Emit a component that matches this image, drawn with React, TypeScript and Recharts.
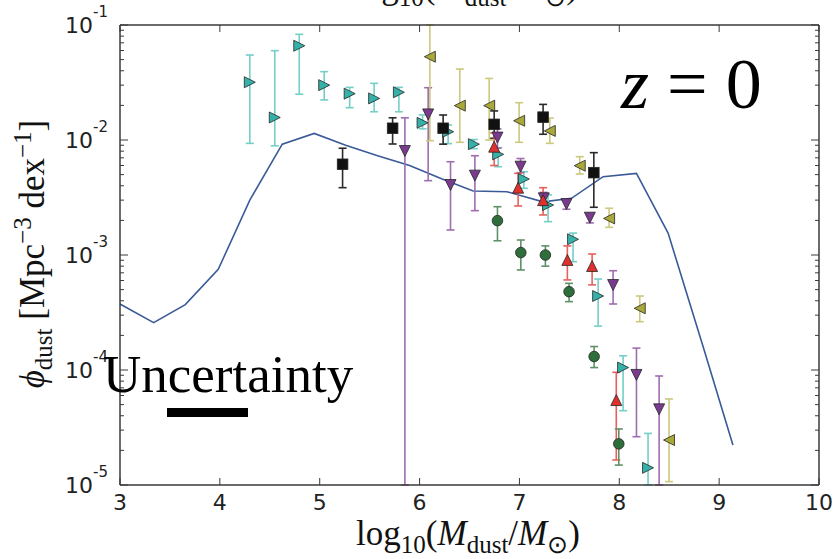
import React from 'react';
import { ComposedChart, Line, Scatter, XAxis, YAxis, ErrorBar } from 'recharts';

// ---------- tick values ----------
const xTicks = [3, 4, 5, 6, 7, 8, 9, 10];
const yDecades = [1e-5, 1e-4, 1e-3, 1e-2, 1e-1];
const yMinorSteps = [2, 3, 4, 5, 6, 7, 8, 9];

// ---------- model line ----------
const modelX = [3.0, 3.337, 3.654, 3.984, 4.3, 4.625, 4.945, 5.26, 5.58, 5.9, 6.22, 6.537, 6.876, 7.237, 7.521, 7.838, 8.172, 8.489, 8.839, 9.138];
const modelY = [3.75e-4, 2.58e-4, 3.7e-4, 7.5e-4, 3.0e-3, 9.2e-3, 1.14e-2, 9.0e-3, 7.3e-3, 6.0e-3, 4.6e-3, 3.6e-3, 3.55e-3, 2.9e-3, 3.11e-3, 4.8e-3, 5.13e-3, 1.55e-3, 1.6e-4, 2.23e-5];

// ---------- cyan right triangles ----------
const cyanX = [4.3, 4.55, 4.795, 5.045, 5.3, 5.545, 5.793, 6.03, 6.286, 6.544, 6.787, 7.044, 7.287, 7.537, 7.788, 8.038, 8.288];
const cyanY = [0.0318, 0.0157, 0.066, 0.03, 0.0253, 0.023, 0.026, 0.0141, 0.0118, 0.0092, 0.0075, 0.00458, 0.00272, 0.00137, 0.00044, 1.05e-4, 1.41e-5];
const cyanLo = [0.00935, 0.0089, 0.025, 0.0223, 0.0191, 0.0176, 0.0176, 0.0125, 0.0093, 0.0084, 0.00586, 0.0038, 0.00195, 0.000875, 0.000241, 4.43e-5, 1e-6];
const cyanHi = [0.0548, 0.0598, 0.083, 0.0393, 0.0287, 0.0311, 0.0287, 0.0165, 0.0135, 0.0101, 0.00857, 0.0053, 0.00333, 0.00155, 0.000618, 1.33e-4, 2.81e-5];

// ---------- black squares ----------
const blackX = [5.229, 5.73, 6.236, 6.747, 7.237, 7.745];
const blackY = [0.00615, 0.01265, 0.01265, 0.01368, 0.0158, 0.0052];
const blackLo = [0.00385, 0.00923, 0.0092, 0.01035, 0.01122, 0.0026];
const blackHi = [0.00848, 0.0156, 0.0165, 0.0179, 0.0204, 0.00776];

// ---------- purple down triangles ----------
const purpleX = [5.853, 6.086, 6.31, 6.554, 6.78, 7.011, 7.244, 7.471, 7.705, 7.938, 8.172, 8.399];
const purpleY = [0.00802, 0.0167, 0.00406, 0.0049, 0.0105, 0.00586, 0.00311, 0.00277, 0.00211, 5.48e-4, 9.06e-5, 4.55e-5];
const purpleLo = [1e-6, 0.00443, 0.00165, 0.00243, 0.0085, 0.0052, 0.0027, 0.0025, 0.0019, 3.75e-4, 2.63e-5, 1e-6];
const purpleHi = [0.0156, 0.0285, 0.00647, 0.0073, 0.0125, 0.0069, 0.0035, 0.003, 0.0023, 7.3e-4, 1.55e-4, 8.87e-5];

// ---------- olive left triangles ----------
const oliveX = [6.103, 6.403, 6.697, 6.997, 7.304, 7.604, 7.898, 8.205, 8.498];
const oliveY = [0.053, 0.0199, 0.0199, 0.0147, 0.012, 0.00598, 0.00208, 3.44e-4, 2.46e-5];
const oliveLo = [0.00986, 0.00955, 0.01, 0.00955, 0.00935, 0.00506, 0.00174, 2.63e-4, 1.07e-5];
const oliveHi = [0.2, 0.0414, 0.0343, 0.0211, 0.0155, 0.00716, 0.00255, 4.4e-4, 5.6e-5];

// ---------- red up triangles ----------
const redX = [6.747, 6.987, 7.237, 7.48, 7.728, 7.97];
const redY = [0.00875, 0.00385, 0.003, 9.06e-4, 8.02e-4, 5.48e-5];
const redLo = [0.006, 0.00267, 0.00223, 6.07e-4, 5.5e-4, 1.65e-5];
const redHi = [0.0115, 0.00513, 0.00385, 0.0012, 0.00102, 9.55e-5];

// ---------- green circles ----------
const greenX = [6.78, 7.014, 7.26, 7.497, 7.748, 7.995];
const greenY = [0.00199, 0.00105, 0.001, 4.8e-4, 1.31e-4, 2.28e-5];
const greenLo = [0.00133, 7.41e-4, 8.0e-4, 3.93e-4, 1.05e-4, 1.49e-5];
const greenHi = [0.00263, 0.00135, 0.0012, 5.67e-4, 1.6e-4, 3.07e-5];

// ---------- tables ----------
const Y_MIN = yDecades[0];
const Y_MAX = yDecades[yDecades.length - 1];
const yTicks: number[] = [];
yDecades.forEach((d, i) => {
  yTicks.push(d);
  if (i < yDecades.length - 1) yMinorSteps.forEach((m) => yTicks.push(d * m));
});

const modelData = modelX.map((x, i) => ({ x, y: modelY[i] }));
// error bars that leave the frame are cut at the frame edge
const build = (xs: number[], ys: number[], lo: number[], hi: number[]) =>
  xs.map((x, i) => {
    const l = Math.max(lo[i], Y_MIN);
    const h = Math.min(hi[i], Y_MAX);
    return { x, y: ys[i], err: [ys[i] - l, h - ys[i]] };
  });

const cyanData = build(cyanX, cyanY, cyanLo, cyanHi);
const blackData = build(blackX, blackY, blackLo, blackHi);
const purpleData = build(purpleX, purpleY, purpleLo, purpleHi);
const oliveData = build(oliveX, oliveY, oliveLo, oliveHi);
const redData = build(redX, redY, redLo, redHi);
const greenData = build(greenX, greenY, greenLo, greenHi);

// ---------- styles ----------
const AXIS = '#3a3a3a';
const EDGE = '#262626';
const TICKFONT = 'DejaVu Sans, Verdana, sans-serif';
const SERIF = '"Liberation Serif", "Times New Roman", serif';

const isMajor = (v: number) => {
  const l = Math.log10(v);
  return Math.abs(l - Math.round(l)) < 1e-6;
};

const LeftTick = (p: any) => {
  const { x, y, payload } = p;
  const v = payload.value;
  const major = isMajor(v);
  return (
    <g>
      <line x1={x} y1={y} x2={x + (major ? 8 : 4)} y2={y} stroke={AXIS} strokeWidth={1} />
      {major && (
        <text x={x - 12} y={y + 8} textAnchor="end" fontFamily={TICKFONT} fontSize={22} fill="#222">
          10
          <tspan dy={-16} fontSize={15}>{String(Math.round(Math.log10(v)))}</tspan>
        </text>
      )}
    </g>
  );
};

const RightTick = (p: any) => {
  const { x, y, payload } = p;
  const major = isMajor(payload.value);
  return <line x1={x} y1={y} x2={x - (major ? 8 : 4)} y2={y} stroke={AXIS} strokeWidth={1} />;
};

const BottomTick = (p: any) => {
  const { x, y, payload } = p;
  return (
    <g>
      <line x1={x} y1={y} x2={x} y2={y - 7} stroke={AXIS} strokeWidth={1} />
      <text x={x} y={y + 25} textAnchor="middle" fontFamily={TICKFONT} fontSize={22} fill="#222">
        {payload.value}
      </text>
    </g>
  );
};

const TopTick = (p: any) => {
  const { x, y } = p;
  return <line x1={x} y1={y} x2={x} y2={y + 7} stroke={AXIS} strokeWidth={1} />;
};

const tri = (dir: string, fill: string) => (props: any) => {
  const { cx, cy } = props;
  if (cx == null || cy == null || isNaN(cx) || isNaN(cy)) return <g />;
  const s = 5.5;
  let pts = '';
  if (dir === 'right') pts = `${cx + s},${cy} ${cx - s},${cy - s} ${cx - s},${cy + s}`;
  if (dir === 'left') pts = `${cx - s},${cy} ${cx + s},${cy - s} ${cx + s},${cy + s}`;
  if (dir === 'down') pts = `${cx},${cy + s} ${cx - s},${cy - s} ${cx + s},${cy - s}`;
  if (dir === 'up') pts = `${cx},${cy - s} ${cx - s},${cy + s} ${cx + s},${cy + s}`;
  return <polygon points={pts} fill={fill} stroke={EDGE} strokeWidth={0.8} />;
};

const square = (fill: string) => (props: any) => {
  const { cx, cy } = props;
  if (cx == null || cy == null) return <g />;
  return <rect x={cx - 5.3} y={cy - 5.3} width={10.6} height={10.6} fill={fill} stroke={EDGE} strokeWidth={0.8} />;
};

const circle = (fill: string) => (props: any) => {
  const { cx, cy } = props;
  if (cx == null || cy == null) return <g />;
  return <circle cx={cx} cy={cy} r={5.3} fill={fill} stroke={EDGE} strokeWidth={0.8} />;
};

const series = [
  { name: 'cyan', data: cyanData, shape: tri('right', '#35b1a9'), err: '#74cfc7' },
  { name: 'black', data: blackData, shape: square('#111111'), err: '#2a2a2a' },
  { name: 'purple', data: purpleData, shape: tri('down', '#7a3b8f'), err: '#a06cb0' },
  { name: 'olive', data: oliveData, shape: tri('left', '#a9a83a'), err: '#cbc97c' },
  { name: 'red', data: redData, shape: tri('up', '#e0302e'), err: '#e6605c' },
  { name: 'green', data: greenData, shape: circle('#2e6e3a'), err: '#5f9167' },
];

const AxisTitle = ({ x, y }: { x: number; y: number }) => (
  <text x={x} y={y} textAnchor="middle" fontFamily={SERIF} fontSize={35} fill="#111">
    log
    <tspan dy={8} fontSize={25}>10</tspan>
    <tspan dy={-8}>(</tspan>
    <tspan fontStyle="italic">M</tspan>
    <tspan dy={8} fontSize={25}>dust</tspan>
    <tspan dy={-8}>/</tspan>
    <tspan fontStyle="italic">M</tspan>
    <tspan dy={8} fontSize={25}>⊙</tspan>
    <tspan dy={-8}>)</tspan>
  </text>
);

export default function App() {
  return (
    <div style={{ position: 'absolute', left: 0, top: 0, width: 840, height: 559, background: '#fff' }}>
      <ComposedChart width={840} height={559} margin={{ top: 24, right: 20, bottom: 44, left: 60 }}>
        <XAxis
          xAxisId="b"
          type="number"
          dataKey="x"
          domain={[3, 10]}
          ticks={xTicks}
          interval={0}
          allowDataOverflow
          height={30}
          tickSize={0}
          tickMargin={0}
          tickLine={false}
          tick={BottomTick}
          axisLine={{ stroke: AXIS, strokeWidth: 1.5 }}
        />
        <XAxis
          xAxisId="t"
          orientation="top"
          type="number"
          dataKey="x"
          domain={[3, 10]}
          ticks={xTicks}
          interval={0}
          allowDataOverflow
          height={1}
          tickSize={0}
          tickMargin={0}
          tickLine={false}
          tick={TopTick}
          axisLine={{ stroke: AXIS, strokeWidth: 1.5 }}
        />
        <YAxis
          yAxisId="l"
          type="number"
          dataKey="y"
          scale="log"
          domain={[Y_MIN, Y_MAX]}
          ticks={yTicks}
          interval={0}
          allowDataOverflow
          width={60}
          tickSize={0}
          tickMargin={0}
          tickLine={false}
          tick={LeftTick}
          axisLine={{ stroke: AXIS, strokeWidth: 1.5 }}
        />
        <YAxis
          yAxisId="r"
          orientation="right"
          type="number"
          dataKey="y"
          scale="log"
          domain={[Y_MIN, Y_MAX]}
          ticks={yTicks}
          interval={0}
          allowDataOverflow
          width={1}
          tickSize={0}
          tickMargin={0}
          tickLine={false}
          tick={RightTick}
          axisLine={{ stroke: AXIS, strokeWidth: 1.5 }}
        />
        <Line
          xAxisId="b"
          yAxisId="l"
          data={modelData}
          dataKey="y"
          type="linear"
          stroke="#3a5a98"
          strokeWidth={1.6}
          dot={false}
          activeDot={false}
          isAnimationActive={false}
        />
        {series.map((s) => (
          <Scatter
            key={s.name}
            xAxisId="b"
            yAxisId="l"
            data={s.data}
            dataKey="y"
            shape={s.shape}
            isAnimationActive={false}
          >
            <ErrorBar dataKey="err" direction="y" width={4} stroke={s.err} strokeWidth={1.6} isAnimationActive={false} />
          </Scatter>
        ))}
      </ComposedChart>
      <svg
        width={840}
        height={559}
        style={{ position: 'absolute', left: 0, top: 0, pointerEvents: 'none', overflow: 'hidden' }}
      >
        <AxisTitle x={466} y={-2} />
        <AxisTitle x={468} y={545} />
        <text
          transform="translate(44,254) rotate(-90)"
          textAnchor="middle"
          fontFamily={SERIF}
          fontSize={35}
          fill="#111"
        >
          <tspan fontStyle="italic">ϕ</tspan>
          <tspan dy={8} fontSize={25}>dust</tspan>
          <tspan dy={-8}> [Mpc</tspan>
          <tspan dy={-13} fontSize={25}>−3</tspan>
          <tspan dy={13}> dex</tspan>
          <tspan dy={-13} fontSize={25}>−1</tspan>
          <tspan dy={13}>]</tspan>
        </text>
        <text x={621} y={108} fontFamily={SERIF} fontSize={72} fill="#000">
          <tspan fontStyle="italic">z</tspan> = 0
        </text>
        <text x={103} y={392} fontFamily={SERIF} fontSize={53} fill="#000">
          Uncertainty
        </text>
        <rect x={167} y={408} width={81} height={9} fill="#000" />
      </svg>
    </div>
  );
}
